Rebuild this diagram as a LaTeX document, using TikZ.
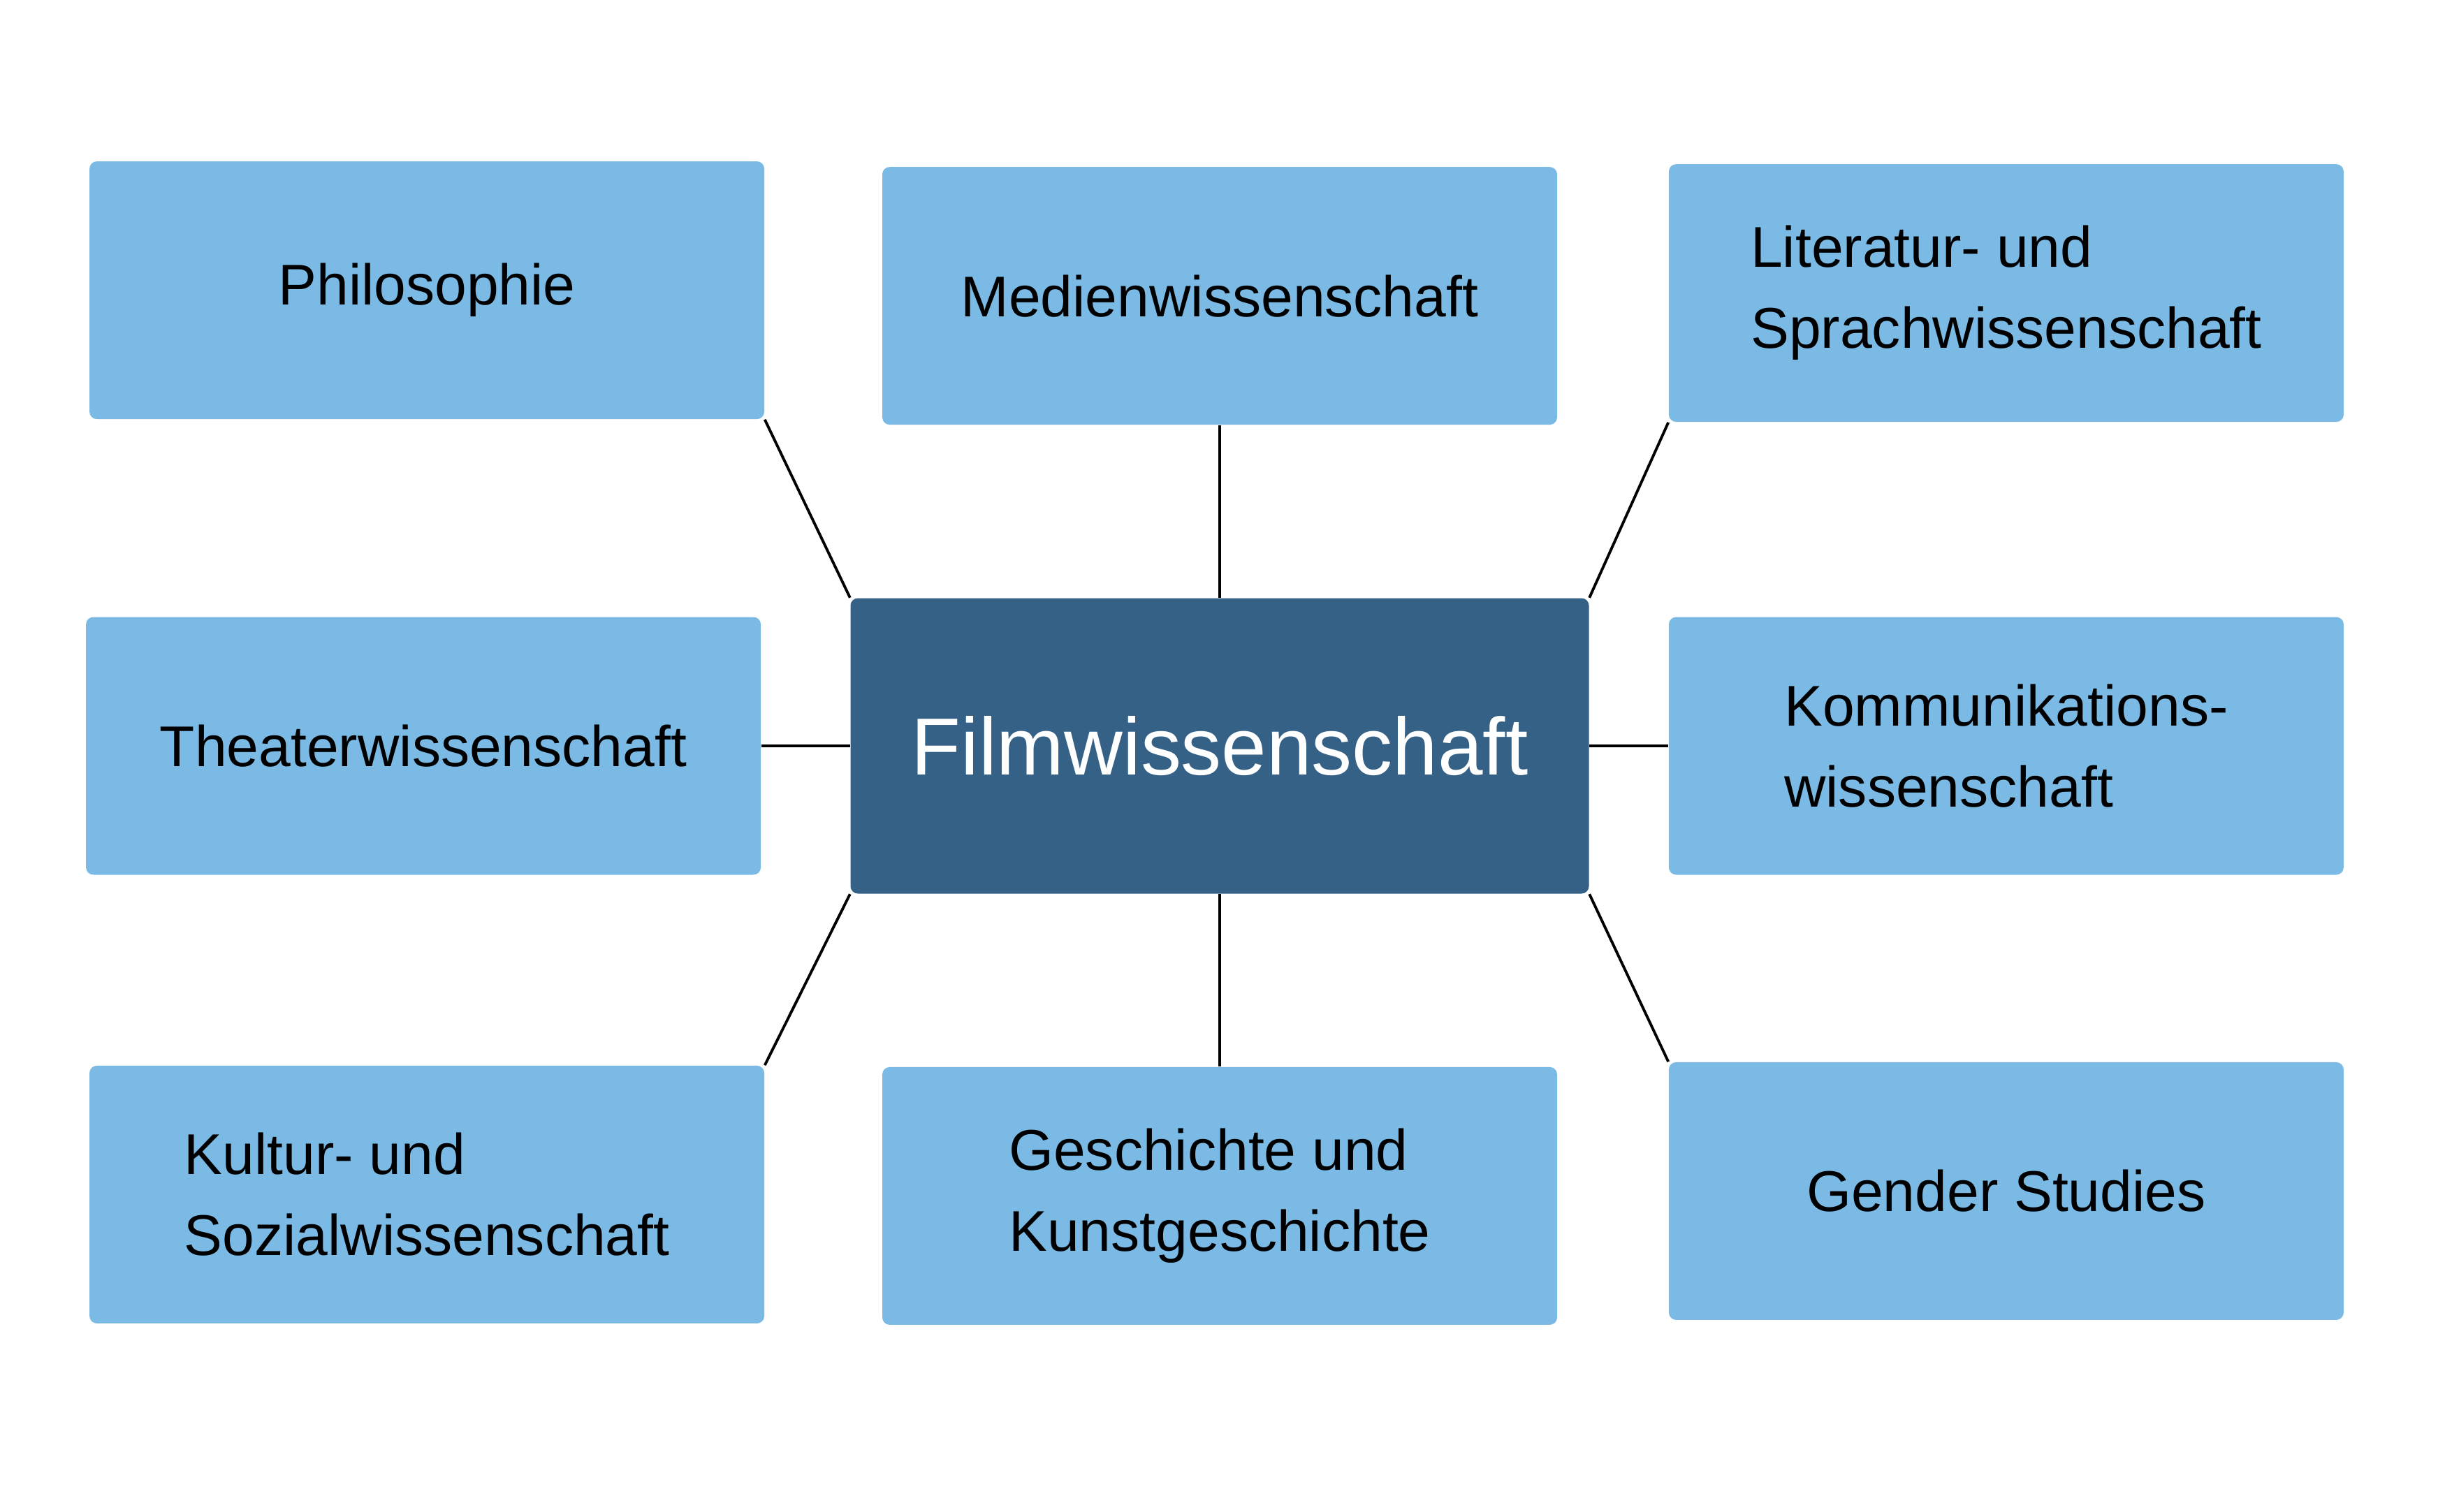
\documentclass[tikz,border=0pt]{standalone}
\usepackage{fontspec}
\setmainfont{Liberation Sans}
\usetikzlibrary{positioning}
\definecolor{fieldblue}{RGB}{122,186,228}
\definecolor{corenavy}{RGB}{54,97,134}
\definecolor{textdark}{RGB}{0,0,0}
\tikzset{
  field/.style={
    rectangle, rounded corners=3pt, fill=fieldblue, draw=none,
    minimum width=9.66cm, minimum height=3.69cm, align=left,
    font=\fontsize{23.4}{33}\selectfont, text=textdark
  },
  core/.style={
    rectangle, rounded corners=3pt, fill=corenavy, draw=none,
    minimum width=10.57cm, minimum height=4.23cm, align=center,
    font=\fontsize{33}{40}\selectfont, text=white
  },
  link/.style={line width=1.1pt, draw=black}
}

\begin{document}
\begin{tikzpicture}
\useasboundingbox (0,0) rectangle (34.90,-21.64);
\node[core] (film) at (17.46,-10.68) {Filmwissenschaft};
\node[field, left=1.27cm of film] (theater) {Theaterwissenschaft};
\node[field, right=1.13cm of film] (komm) {Kommunikations-\\wissenschaft};
\node[field, above=2.47cm of film] (medien) {Medienwissenschaft};
\node[field, below=2.47cm of film] (gesch) {Geschichte und\\Kunstgeschichte};
\node[field, above=2.82cm of theater, xshift=0.05cm] (philo) {Philosophie};
\node[field, above=2.78cm of komm] (litsprach) {Literatur- und\\Sprachwissenschaft};
\node[field, below=2.72cm of theater, xshift=0.05cm] (kultur) {Kultur- und\\Sozialwissenschaft};
\node[field, below=2.67cm of komm] (gender) {Gender Studies};
\draw[link] (philo.south east) -- (film.north west);
\draw[link] (medien) -- (film);
\draw[link] (litsprach.south west) -- (film.north east);
\draw[link] (theater) -- (film);
\draw[link] (film) -- (komm);
\draw[link] (kultur.north east) -- (film.south west);
\draw[link] (film) -- (gesch);
\draw[link] (film.south east) -- (gender.north west);
\end{tikzpicture}
\end{document}
